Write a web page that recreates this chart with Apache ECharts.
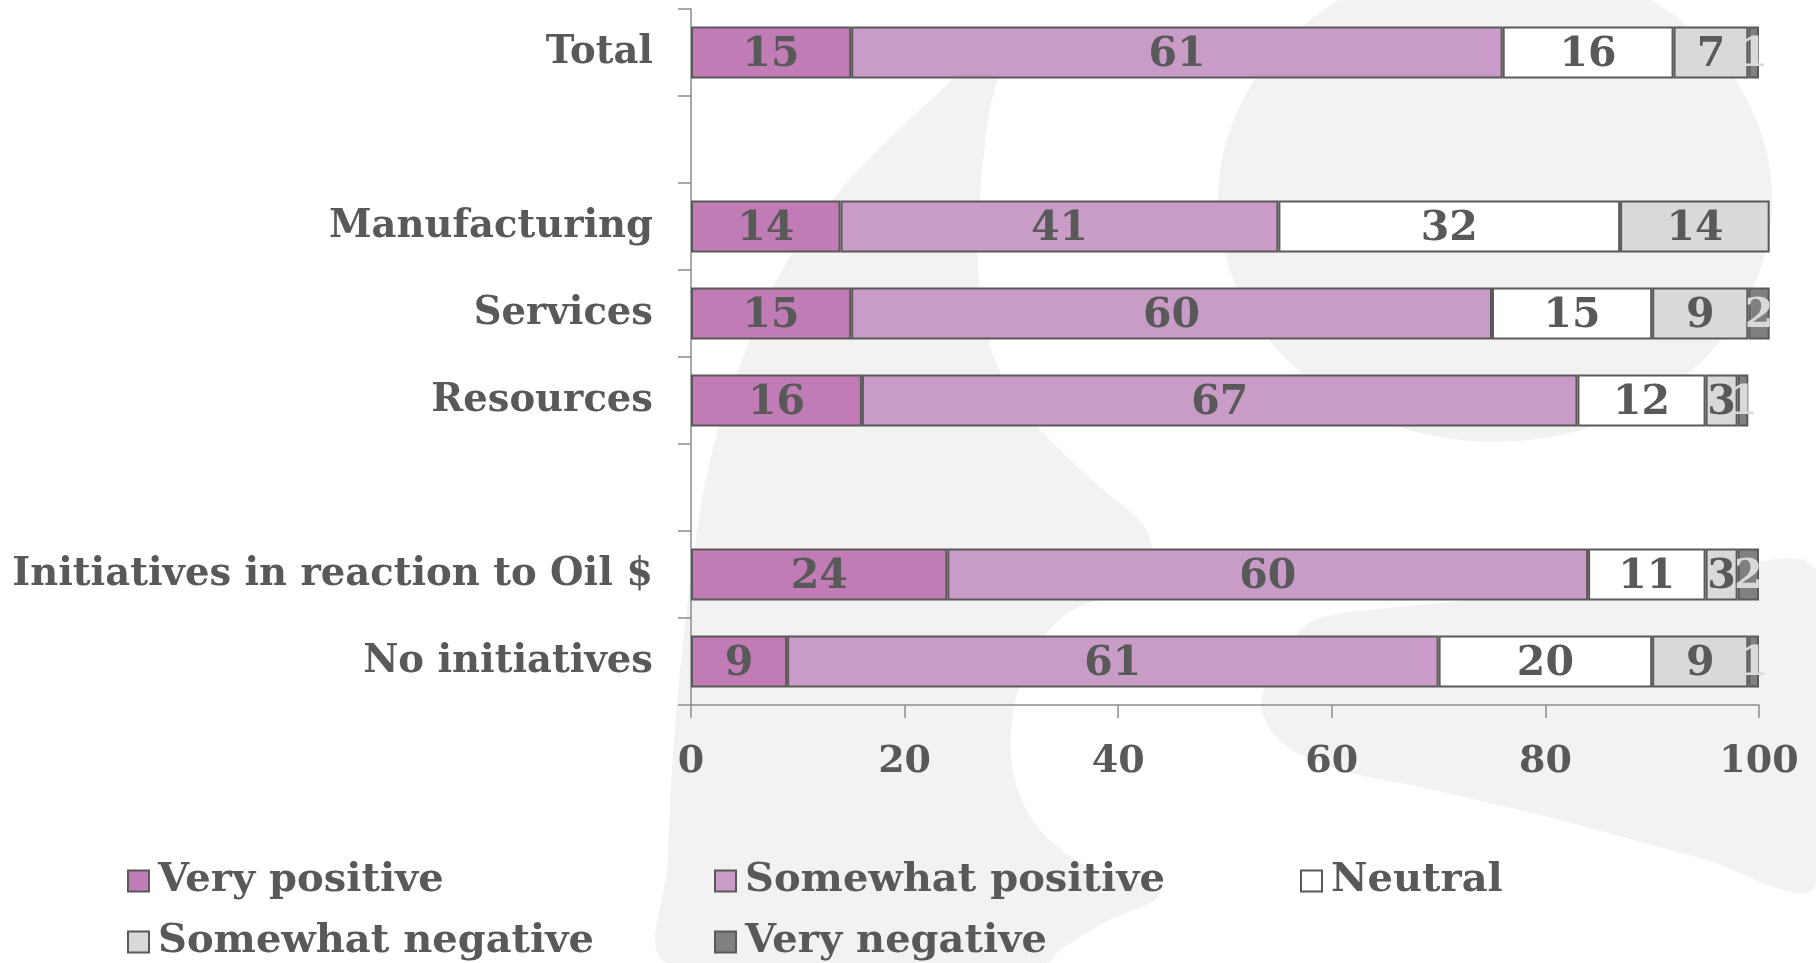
<!DOCTYPE html>
<html>
<head>
<meta charset="utf-8">
<title>Attitudes by sector</title>
<script src="https://cdn.jsdelivr.net/npm/echarts@6/dist/echarts.min.js"></script>
<style>
  html, body { margin: 0; padding: 0; background: #ffffff; }
  #chart { width: 1816px; height: 963px; }
</style>
</head>
<body>
<div id="chart"></div>
<script>
// Rows from top to bottom; empty strings are spacer rows between groups.
const categories = ['Total', '', 'Manufacturing', 'Services', 'Resources', '', 'Initiatives in reaction to Oil $', 'No initiatives'];

// Shares (%) per answer, one value per row.
const veryPositive     = [15, null, 14, 15, 16, null, 24, 9];
const somewhatPositive = [61, null, 41, 60, 67, null, 60, 61];
const neutral          = [16, null, 32, 15, 12, null, 11, 20];
const somewhatNegative = [7,  null, 14, 9,  3,  null, 3,  9];
const veryNegative     = [1,  null, null, 2, 1, null, 2,  1];

const seriesNames = ['Very positive', 'Somewhat positive', 'Neutral', 'Somewhat negative', 'Very negative'];

// Value axis: 0 to 100 in steps of 20.
const axisMin = 0;
const axisMax = 100;
const axisStep = 20;

const FONT = 'DejaVu Serif';
const TEXT = '#595959';
const EDGE = '#595959';
const AXIS = '#8c8c8c';
const WASH = '#f2f2f2';

const colors = ['#c17bb5', '#c89cc6', '#ffffff', '#d9d9d9', '#808080'];
const labelColors = [TEXT, TEXT, TEXT, TEXT, '#d9d9d9'];
const seriesData = [veryPositive, somewhatPositive, neutral, somewhatNegative, veryNegative];

const chart = echarts.init(document.getElementById('chart'), null, { renderer: 'canvas' });

const series = seriesNames.map((name, i) => ({
  name: name,
  type: 'bar',
  stack: 'all',
  clip: false,
  barCategoryGap: '40%',
  data: seriesData[i],
  itemStyle: { color: colors[i], borderColor: EDGE, borderWidth: 2 },
  label: {
    show: true,
    position: 'inside',
    offset: [0, 3],
    color: labelColors[i],
    fontFamily: FONT,
    fontWeight: 'bold',
    fontSize: 41,
    formatter: p => (p.value == null ? '' : String(p.value))
  },
  emphasis: { disabled: true },
  z: 3
}));

// Background watermark shapes (light grey logo wash).
const crescent = [
  [668, 963], [668, 860], [674, 740], [688, 600], [708, 470], [742, 360], [785, 265],
  [845, 185], [920, 110], [1000, 45], [988, 120], [980, 200], [979, 280], [990, 345],
  [1010, 390], [1045, 435], [1100, 487], [1145, 528], [1150, 560], [1120, 590],
  [1065, 615], [1030, 660], [1012, 720], [1015, 780], [1040, 830], [1090, 868],
  [1160, 893], [1100, 925], [1060, 950], [1045, 963]
];
const swoosh = [
  [1323, 617], [1420, 605], [1550, 592], [1680, 580], [1816, 571], [1816, 884],
  [1700, 858], [1560, 820], [1420, 787], [1340, 770], [1285, 745], [1262, 710],
  [1272, 670], [1295, 635]
];

function legendAt(name, left, top) {
  return {
    data: [name],
    left: left,
    top: top,
    padding: 0,
    icon: 'rect',
    itemWidth: 21,
    itemHeight: 21,
    itemGap: 0,
    selectedMode: false,
    itemStyle: { borderColor: EDGE, borderWidth: 2 },
    textStyle: { color: TEXT, fontFamily: FONT, fontWeight: 'bold', fontSize: 40, padding: [0, 0, 0, 4] }
  };
}

chart.setOption({
  backgroundColor: '#ffffff',
  animation: false,
  graphic: [
    { type: 'circle', x: 1495, y: 200, scaleX: 277 / 242, scaleY: 1, shape: { cx: 0, cy: 0, r: 242 }, style: { fill: WASH }, z: -100, silent: true },
    { type: 'polygon', shape: { points: crescent, smooth: 0.35 }, style: { fill: WASH }, z: -100, silent: true },
    { type: 'polygon', shape: { points: swoosh, smooth: 0.35 }, style: { fill: WASH }, z: -100, silent: true }
  ],
  grid: { left: 691, right: 57, top: 9, bottom: 258, containLabel: false },
  xAxis: {
    type: 'value',
    min: axisMin,
    max: axisMax,
    interval: axisStep,
    splitLine: { show: false },
    axisLine: { show: true, lineStyle: { color: AXIS, width: 1.5 } },
    axisTick: { show: true, length: 13, lineStyle: { color: AXIS, width: 1.5 } },
    axisLabel: { color: TEXT, fontFamily: FONT, fontWeight: 'bold', fontSize: 38, margin: 38 }
  },
  yAxis: {
    type: 'category',
    inverse: true,
    data: categories,
    axisLine: { show: true, lineStyle: { color: AXIS, width: 1.5 } },
    axisTick: { show: true, length: 13, lineStyle: { color: AXIS, width: 1.5 } },
    axisLabel: { color: TEXT, fontFamily: FONT, fontWeight: 'bold', fontSize: 38.5, margin: 38, padding: [10, 0, 0, 0] }
  },
  legend: [
    legendAt('Very positive', 127, 861),
    legendAt('Somewhat positive', 714, 861),
    legendAt('Neutral', 1300, 861),
    legendAt('Somewhat negative', 127, 922),
    legendAt('Very negative', 714, 922)
  ],
  series: series
});
</script>
</body>
</html>
